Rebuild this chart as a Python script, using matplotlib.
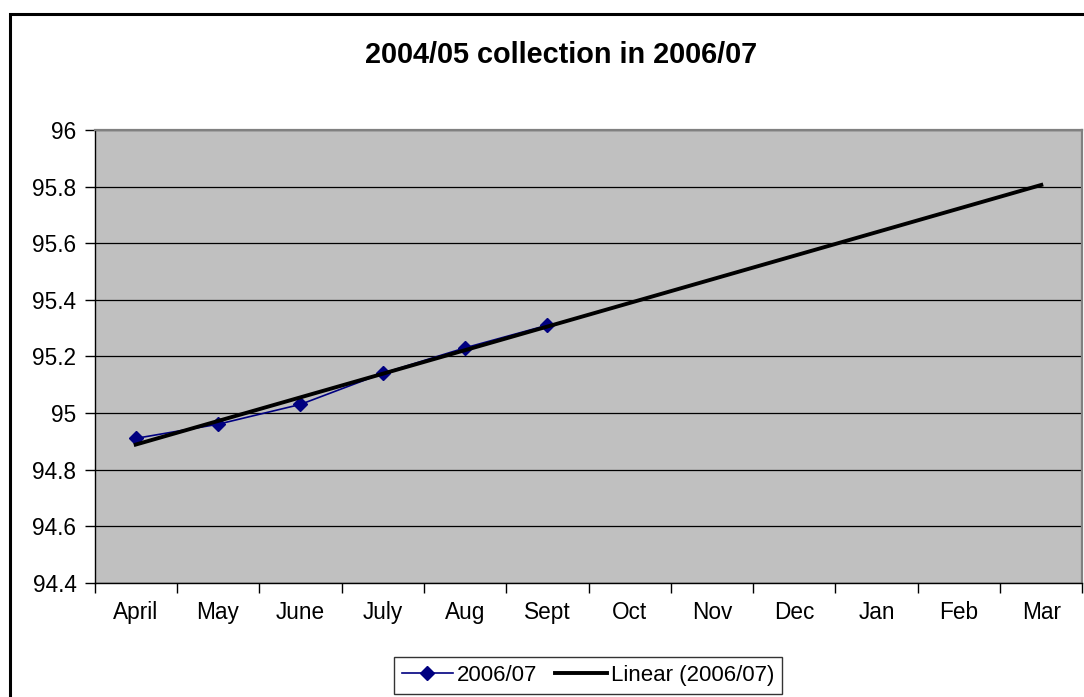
import numpy as np
import matplotlib
matplotlib.use('Agg')
import matplotlib.pyplot as plt
from matplotlib.patches import Rectangle
from matplotlib.ticker import FixedLocator, FuncFormatter

months = ['April', 'May', 'June', 'July', 'Aug', 'Sept',
          'Oct', 'Nov', 'Dec', 'Jan', 'Feb', 'Mar']
collected = [94.91, 94.96, 95.03, 95.14, 95.23, 95.31]
y_ticks = [94.4, 94.6, 94.8, 95.0, 95.2, 95.4, 95.6, 95.8, 96.0]

plt.rcParams['font.family'] = ['Liberation Sans', 'DejaVu Sans']

fig = plt.figure(figsize=(10.84, 6.97), dpi=100)
ax = fig.add_axes([0.0872, 0.164, 0.9114, 0.6495])
ax.set_facecolor('#c0c0c0')

# monthly figures and the linear trend over the whole year
x = np.arange(len(collected))
xs = np.arange(len(months))
slope, icpt = np.polyfit(x + 1, collected, 1)
trend = slope * (xs + 1) + icpt

ax.plot(x, collected, color='#000080', lw=1.2, marker='D', ms=7,
        label='2006/07', zorder=3)
ax.plot(xs, trend, color='black', lw=2.8, label='Linear (2006/07)', zorder=4)

ax.set_xlim(-0.5, len(months) - 0.5)
ax.set_ylim(94.4, 96.0)
ax.set_xticks(xs)
ax.set_xticklabels(months, fontsize=16.3)
ax.xaxis.set_minor_locator(FixedLocator(np.arange(-0.5, len(months), 1.0)))
ax.tick_params(axis='x', which='major', length=0, pad=13)
ax.tick_params(axis='x', which='minor', length=7, width=1, color='black')
ax.yaxis.set_major_locator(FixedLocator(y_ticks))
ax.yaxis.set_major_formatter(FuncFormatter(lambda v, p: '%g' % round(v, 1)))
ax.tick_params(axis='y', length=7, width=1, pad=6, labelsize=16.3)

ax.set_axisbelow(True)
ax.yaxis.grid(True, color='black', lw=0.9)
for s in ['top', 'right']:
    ax.spines[s].set_color('#808080')
    ax.spines[s].set_linewidth(1.6)
for s in ['left', 'bottom']:
    ax.spines[s].set_color('black')
    ax.spines[s].set_linewidth(1.0)

fig.text(561 / 1084, 1 - 55 / 697, '2004/05 collection in 2006/07',
         ha='center', va='center', fontsize=20.8, fontweight='bold')

leg = fig.legend(loc='upper center', bbox_to_anchor=(588 / 1084, 40 / 697),
                 ncol=2, fontsize=16, frameon=True, fancybox=False,
                 edgecolor='black', handlelength=2.3, handletextpad=0.2,
                 columnspacing=0.8, borderpad=0.35, borderaxespad=0)
leg.get_frame().set_linewidth(1.0)

# chart border
fig.patches.append(Rectangle((10 / 1084, -0.1), 1.2, 1.1 - 14 / 697,
                             transform=fig.transFigure, fill=False,
                             edgecolor='black', lw=2.2))

fig.savefig('out.png', dpi=100)
